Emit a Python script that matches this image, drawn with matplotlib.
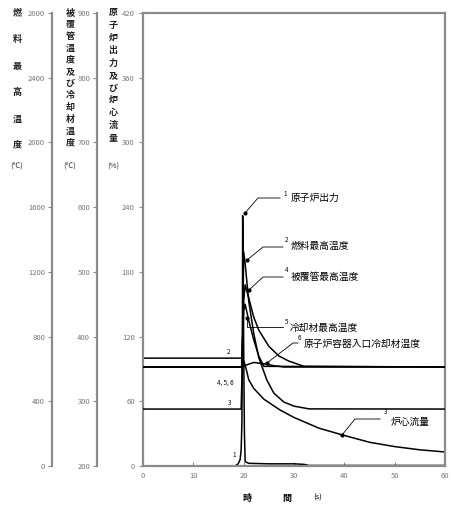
import matplotlib
matplotlib.use("Agg")
import matplotlib.pyplot as plt
import numpy as np

plt.rcParams['font.family'] = ['Noto Sans CJK JP', 'DejaVu Sans']

# ---------------- data ----------------
# 1 reactor power (%)
t_power = [0, 18.3, 18.9, 19.3, 19.5, 19.65, 19.75, 19.8, 19.9, 20.0, 20.15, 20.3, 21, 25, 30, 32, 33, 60]
power = [0, 0, 2, 6, 15, 40, 120, 232, 200, 110, 30, 4, 2.5, 2, 2, 1.5, 0.5, 0.5]

# 2 fuel max temperature (degC)
t_fuel = [0, 19.5, 19.7, 19.85, 20.0, 20.3, 21, 22, 23, 24.6, 26, 28, 30, 33, 60]
fuel = [352, 352, 600, 1000, 1323, 1250, 1020, 820, 670, 532, 450, 395, 370, 353, 352]

# 3 core flow (%)
t_flow = [0, 19.8, 20.2, 20.6, 21.0, 22, 24, 27.2, 30, 35, 39.7, 45, 50, 55, 60]
flow = [100, 100, 95, 88, 80, 72, 62, 52, 45, 35, 28.7, 22, 18, 15, 13]

# 4 cladding max temperature (degC)
t_clad = [0, 19.6, 19.8, 20.0, 20.3, 21, 22, 23, 25, 27, 29, 32, 60]
clad = [353, 353, 400, 455, 480, 460, 430, 410, 385, 370, 362, 354, 353]

# 5 coolant max temperature (degC)
t_cool = [0, 19.6, 19.8, 20.0, 20.3, 21, 22, 23, 24, 60]
cool = [353, 353, 400, 440, 450, 425, 395, 370, 354, 353]

# 6 vessel inlet coolant temperature (degC)
t_inlet = [0, 19.8, 20.5, 22, 24, 26, 28, 60]
inlet = [353, 353, 356, 360, 358, 355, 353, 353]

pct_ticks = [0, 60, 120, 180, 240, 300, 360, 420]
fuel_ticks = [0, 400, 800, 1200, 1600, 2000, 2400, 2800]
clad_ticks = [200, 300, 400, 500, 600, 700, 800, 900]
time_ticks = [0, 10, 20, 30, 40, 50, 60]

# ---------------- figure ----------------
W, H = 452, 508
fig = plt.figure(figsize=(W / 100, H / 100), dpi=100)
L, R, T, B = 143, 445, 13, 466
ax = fig.add_axes([L / W, 1 - B / H, (R - L) / W, (B - T) / H])
ax.set_xlim(0, 60)
ax.set_ylim(0, 420)

gray = '#8a8a8a'
tcol = '#777777'
for s in ax.spines.values():
    s.set_color(gray)
    s.set_linewidth(1.6)
ax.set_xticks(time_ticks)
ax.set_yticks(pct_ticks)
ax.tick_params(axis='x', direction='in', length=3, color=gray, labelsize=5.5, labelcolor=tcol, pad=4)
ax.tick_params(axis='y', direction='out', length=3, color=gray, labelsize=5.5, labelcolor=tcol, pad=3)


def make_side(ylim, ticks, offset_px):
    a = ax.twinx()
    a.set_ylim(*ylim)
    for kk, s in a.spines.items():
        s.set_visible(False)
    a.spines['left'].set_visible(True)
    a.spines['left'].set_color(gray)
    a.spines['left'].set_linewidth(1.6)
    a.spines['left'].set_position(('outward', offset_px * 0.72))
    a.yaxis.set_ticks_position('left')
    a.yaxis.set_label_position('left')
    a.set_yticks(ticks)
    a.set_yticks([ylim[0], ylim[1]], minor=True)
    a.tick_params(axis='y', which='major', direction='out', length=3, color=gray,
                  labelsize=5.5, labelcolor=tcol, pad=2)
    a.tick_params(axis='y', which='minor', direction='in', length=4, color=gray)
    return a


ax_f = make_side((0, 2800), fuel_ticks, L - 52)
ax_c = make_side((200, 900), clad_ticks, L - 97)

lw = 1.1
k = 'black'
ax.plot(t_power, power, color=k, lw=lw)
ax.plot(t_flow, flow, color=k, lw=lw)
ax_f.plot(t_fuel, fuel, color=k, lw=lw)
ax_c.plot(t_clad, clad, color=k, lw=lw)
ax_c.plot(t_cool, cool, color=k, lw=lw)
ax_c.plot(t_inlet, inlet, color=k, lw=lw)


# helper: figure pixel -> main-axes data coords (for annotation layout)
def P(x, y):
    return ((x - L) / (R - L) * 60, (B - y) / (B - T) * 420)


fs = 7
def leader(pts, text, num, nx, ny, tx, ty):
    xs, ys = zip(*[P(*p) for p in pts])
    ax.plot(xs, ys, color=k, lw=0.6, clip_on=False)
    ax.plot(xs[0], ys[0], 'o', color=k, ms=2, clip_on=False)
    ax.text(*P(nx, ny), num, fontsize=4.5, ha='center', va='center')
    ax.text(*P(tx, ty), text, fontsize=fs, ha='left', va='center')


leader([(245, 213), (258, 198), (280, 198)], '原子炉出力', '1', 285, 194, 291, 198)
leader([(247, 260), (263, 247), (283, 247)], '燃料最高温度', '2', 287, 240, 291, 246)
leader([(249, 290), (263, 277), (283, 277)], '被覆管最高温度', '4', 287, 270, 291, 277)
leader([(247, 318), (247, 327), (283, 327)], '冷却材最高温度', '5', 287, 322, 290, 328)
leader([(267, 363), (293, 343), (298, 343)], '原子炉容器入口冷却材温度', '6', 299, 338, 304, 344)
leader([(342, 435), (355, 419), (380, 419)], '炉心流量', '3', 386, 412, 391, 422)

for (x, y, s) in [(229, 352, '2'), (225, 383, '4, 5, 6'), (230, 403, '3'), (234, 455, '1')]:
    ax.text(*P(x, y), s, fontsize=4.5, ha='center', va='center')

# vertical axis titles
def vtext(x, y0, dy, chars, unit, uy):
    for i, c in enumerate(chars):
        fig.text(x / W, 1 - (y0 + i * dy) / H, c, fontsize=6.5, ha='center', va='center',
                 color='#222222', fontweight='bold')
    fig.text(x / W, 1 - uy / H, unit, fontsize=5.5, ha='center', va='center', color='#333333')


vtext(17, 13, 26.5, '燃料最高温度', '(℃)', 167)
vtext(70, 13, 11.8, '被覆管温度及び冷却材温度', '(℃)', 167)
vtext(113, 13, 12.5, '原子炉出力及び炉心流量', '(%)', 167)

fig.text(247 / W, 1 - 498 / H, '時', fontsize=6.5, ha='center', va='center', fontweight='bold')
fig.text(287 / W, 1 - 498 / H, '間', fontsize=6.5, ha='center', va='center', fontweight='bold')
fig.text(318 / W, 1 - 498 / H, '(s)', fontsize=5.5, ha='center', va='center')

fig.savefig('out.png', dpi=100, facecolor='white')
